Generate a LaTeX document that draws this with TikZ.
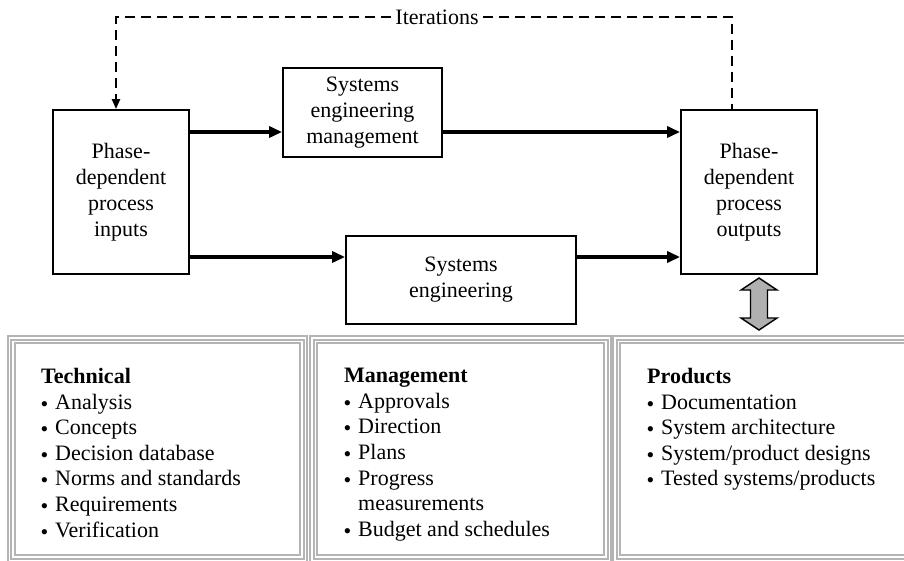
\documentclass[tikz,border=0pt]{standalone}
\usepackage{fontspec}
\setmainfont{Liberation Serif}
\usetikzlibrary{arrows.meta}

\definecolor{framegray}{HTML}{B4B4B4}
\definecolor{arrowgray}{HTML}{B0B0B0}

% bullet item and continuation line for the lists
\newcommand\itm[1]{\makebox[14pt][l]{\hspace*{-0.5pt}\raisebox{-2pt}{\fontsize{22}{22}\selectfont\textbullet}}#1}
\newcommand\cnt[1]{\hspace*{14pt}#1}

\begin{document}
\begin{tikzpicture}[x=1pt,y=-1pt,
  box/.style={draw, line width=1.8pt, align=center, inner sep=0pt,
              font=\fontsize{22}{26}\selectfont},
  flow/.style={line width=3.3pt, -{Triangle[length=13pt,width=11pt]}},
  iter/.style={line width=2.2pt, dash pattern=on 10pt off 6pt},
  frameline/.style={draw=framegray, line width=2pt},
  list/.style={align=left, inner sep=0pt, anchor=north west,
               font=\fontsize{22}{25.6}\selectfont},
]
\useasboundingbox (0,0) rectangle (904,561);

% process boxes
\node[box, minimum width=136pt, minimum height=164pt] (inp) at (121,192)
  {Phase-\\dependent\\process\\inputs};
\node[box, minimum width=136pt, minimum height=164pt] (out) at (749,192)
  {Phase-\\dependent\\process\\outputs};
\node[box, minimum width=159pt, minimum height=89pt] (sem) at (362.5,112.5)
  {Systems\\engineering\\management};
\node[box, minimum width=230pt, minimum height=88pt] (se) at (461,280)
  {Systems\\engineering};

% flow arrows
\coordinate (ya) at (0,132);
\coordinate (yb) at (0,257);
\draw[flow] (inp.east |- ya) -- (sem.west |- ya);
\draw[flow] (sem.east |- ya) -- (out.west |- ya);
\draw[flow] (inp.east |- yb) -- (se.west |- yb);
\draw[flow] (se.east |- yb) -- (out.west |- yb);

% iteration loop
\node[inner sep=4pt, font=\fontsize{22}{26}\selectfont] (iter) at (437,17) {Iterations};
\coordinate (il) at (116,17);
\coordinate (ir) at (732,17);
\draw[iter, -{Triangle[length=10pt,width=8pt]}] (iter.west) -- (il) -- (inp.north -| il);
\draw[iter] (iter.east) -- (ir) -- (out.north -| ir);

% exchange arrow between outputs and the lists
\draw[line width=1.4pt, fill=arrowgray, line join=miter]
  (759,278) -- (741,290) -- (750.5,290) -- (750.5,318) -- (741,318) -- (759,330)
  -- (777,318) -- (767.5,318) -- (767.5,290) -- (777,290) -- cycle;

% framed panels
\begin{scope}
  \clip (0,0) rectangle (904,561);
  \foreach \a/\b in {7.5/307, 310/611, 613/920}{
    \foreach \d in {0,3.5,7}{
      \draw[frameline] (\a+\d,336+\d) rectangle (\b-\d,562-\d);
    }
  }
\end{scope}

% panel contents
\node[list] (tech) at (41,368)
  {\textbf{Technical}\\ \itm{Analysis}\\ \itm{Concepts}\\ \itm{Decision database}\\
   \itm{Norms and standards}\\ \itm{Requirements}\\ \itm{Verification}};
\node[list] (mgmt) at (344,368)
  {\textbf{Management}\\ \itm{Approvals}\\ \itm{Direction}\\ \itm{Plans}\\
   \itm{Progress}\\ \cnt{measurements}\\ \itm{Budget and schedules}};
\node[list] (prod) at (647,368)
  {\textbf{Products}\\ \itm{Documentation}\\ \itm{System architecture}\\
   \itm{System/product designs}\\ \itm{Tested systems/products}};
\end{tikzpicture}
\end{document}
